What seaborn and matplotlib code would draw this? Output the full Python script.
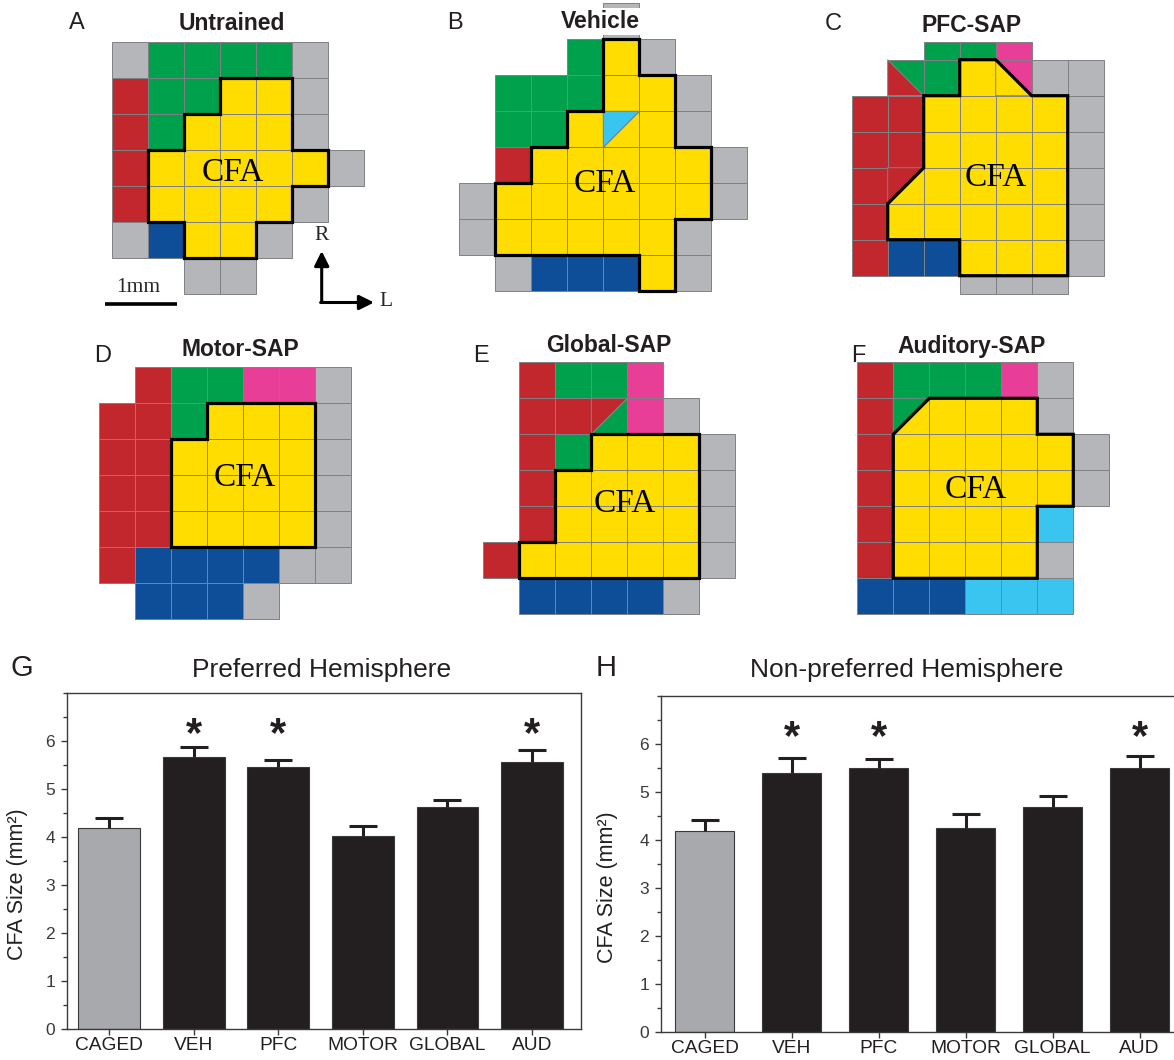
import numpy as np
import pandas as pd
import matplotlib
matplotlib.use("Agg")
import matplotlib.pyplot as plt
from matplotlib.patches import Polygon
from matplotlib.ticker import MultipleLocator
from collections import Counter, defaultdict
import seaborn as sns

# ---------------------------------------------------------------- data
# Motor maps: one token per 500 um site, rows listed rostral -> caudal.
# '.' no site, x non-responsive, g neck, r vibrissa, y forelimb (CFA),
# b hindlimb, p jaw, c trunk.  A three-character token "ABk" splits the
# site on a diagonal: colour A fills the triangle at corner k
# (1 top-left, 2 top-right, 3 bottom-left, 4 bottom-right), colour B the rest.
map_untrained = [
    "x g g g g x .",
    "r g g y y x .",
    "r g y y y x .",
    "r y y y y y x",
    "r y y y y x .",
    "x b y y x . .",
    ". . x x . . .",
]
map_vehicle = [
    ". . . . x . . .",
    ". . . g y x . .",
    ". g g g y y x .",
    ". g g y cy1 y x .",
    ". r y y y y y x",
    "x y y y y y y x",
    "x y y y y y x .",
    ". x b b b y x .",
]
map_pfc = [
    ". . g g p . .",
    ". rg3 g y py2 x x",
    "r r y y y y x",
    "r r y y y y x",
    "r ry1 y y y y x",
    "r y y y y y x",
    "r b b y y y x",
    ". . . x x x .",
]
map_motor = [
    ". r g g p p x",
    "r r g y y y x",
    "r r y y y y x",
    "r r y y y y x",
    "r r y y y y x",
    "r b b b b x x",
    ". b b b x . .",
]
map_global = [
    ". r g g p . .",
    ". r r rg1 p x .",
    ". r g y y y x",
    ". r y y y y x",
    ". r y y y y x",
    "r y y y y y x",
    ". b b b b x .",
]
map_auditory = [
    "r g g g p x .",
    "r gy1 y y y x .",
    "r y y y y y x",
    "r y y y y y x",
    "r y y y y c .",
    "r y y y y x .",
    "b b b c c c .",
]

groups = ["CAGED", "VEH", "PFC", "MOTOR", "GLOBAL", "AUD"]
pref_mean = [4.19, 5.66, 5.45, 4.03, 4.63, 5.56]
pref_sem = [0.21, 0.22, 0.15, 0.19, 0.15, 0.26]
nonpref_mean = [4.18, 5.39, 5.51, 4.26, 4.69, 5.51]
nonpref_sem = [0.24, 0.32, 0.18, 0.28, 0.23, 0.25]
significant = [False, True, True, False, False, True]

# ---------------------------------------------------------------- style
SITE_COLORS = {
    "x": "#b5b6ba", "g": "#00a14c", "r": "#c1272d", "y": "#ffdd00",
    "b": "#0e4d97", "p": "#e83e97", "c": "#39c5ef",
}
GRID_LINE = "#7f8184"
INK = "#231f20"
BAR_COLORS = ["#a7a9ac"] + [INK] * 5
CELL = 36.0  # pixels per site

sns.set_theme(style="white")
plt.rcParams["font.family"] = ["Liberation Sans", "DejaVu Sans"]
SERIF = ["Liberation Serif", "DejaVu Serif"]

# panel layout in figure pixels (y measured downward)
MAP_PANELS = [
    dict(grid=map_untrained, title="Untrained", letter="A", origin=(111.7, 41.7),
         title_xy=(231.7, 23.5), letter_xy=(77, 23), label_xy=(3.36, 3.63)),
    dict(grid=map_vehicle, title="Vehicle", letter="B", origin=(459.3, 3.3),
         title_xy=(600, 21.5), letter_xy=(455, 23), label_xy=(4.05, 5.02),
         cfa=("y", "c"), title_box=True),
    dict(grid=map_pfc, title="PFC-SAP", letter="C", origin=(851.7, 41.7),
         title_xy=(972, 26), letter_xy=(833, 24), label_xy=(3.99, 3.77),
         rows=[0.5, 1, 1, 1, 1, 1, 1, 0.5]),
    dict(grid=map_motor, title="Motor-SAP", letter="D", origin=(99.3, 367.3),
         title_xy=(240, 350), letter_xy=(103, 356), label_xy=(4.04, 3.06)),
    dict(grid=map_global, title="Global-SAP", letter="E", origin=(483.3, 362.3),
         title_xy=(609, 345), letter_xy=(481, 356), label_xy=(3.93, 3.94)),
    dict(grid=map_auditory, title="Auditory-SAP", letter="F", origin=(857.3, 362.3),
         title_xy=(972, 346.5), letter_xy=(858, 356), label_xy=(3.29, 3.55)),
]

W, H = 1174, 1060
fig = plt.figure(figsize=(W / 100, H / 100), dpi=100)
fig.patch.set_facecolor("white")

canvas = fig.add_axes([0, 0, 1, 1])
canvas.set_xlim(0, W)
canvas.set_ylim(H, 0)
canvas.axis("off")
canvas.set_zorder(0)


def cell_pieces(token, x0, y0, h):
    tl, tr, bl, br = (x0, y0), (x0 + 1, y0), (x0, y0 + h), (x0 + 1, y0 + h)
    if len(token) == 1:
        return [(token, [tl, tr, br, bl])]
    a, b, k = token[0], token[1], int(token[2])
    if k == 1:
        tri, rest = [tl, tr, bl], [tr, br, bl]
    elif k == 2:
        tri, rest = [tl, tr, br], [tl, br, bl]
    elif k == 3:
        tri, rest = [tl, br, bl], [tl, tr, br]
    else:
        tri, rest = [tr, br, bl], [tl, tr, bl]
    return [(a, tri), (b, rest)]


def chain_loops(edges):
    adj = defaultdict(list)
    for e in edges:
        adj[e[0]].append(e)
        adj[e[1]].append(e)
    unused = set(edges)
    loops = []
    while unused:
        e = unused.pop()
        start, cur = e[0], e[1]
        loop = [start, cur]
        while cur != start:
            nxt = next((f for f in adj[cur] if f in unused), None)
            if nxt is None:
                break
            unused.remove(nxt)
            cur = nxt[1] if nxt[0] == cur else nxt[0]
            loop.append(cur)
        loops.append(loop)
    return loops


def draw_map(ax, panel):
    ox, oy = panel["origin"]
    rows = panel.get("rows", [1] * len(panel["grid"]))
    cfa = panel.get("cfa", ("y",))
    to_px = lambda p: (ox + CELL * p[0], oy + CELL * p[1])
    edge_count = Counter()
    y0 = 0.0
    for line, h in zip(panel["grid"], rows):
        for c, token in enumerate(line.split()):
            if token == ".":
                continue
            for colour, verts in cell_pieces(token, c, y0, h):
                ax.add_patch(Polygon([to_px(v) for v in verts], closed=True,
                                     facecolor=SITE_COLORS[colour],
                                     edgecolor=GRID_LINE, linewidth=0.7, zorder=1))
                if colour in cfa:
                    pts = [(round(v[0], 4), round(v[1], 4)) for v in verts]
                    for p, q in zip(pts, pts[1:] + pts[:1]):
                        edge_count[tuple(sorted((p, q)))] += 1
        y0 += h
    boundary = [e for e, n in edge_count.items() if n == 1]
    for loop in chain_loops(boundary):
        ax.add_patch(Polygon([to_px(v) for v in loop], closed=True, fill=False,
                             edgecolor="black", linewidth=2.3, joinstyle="miter",
                             zorder=3))
    lx, ly = to_px(panel["label_xy"])
    ax.text(lx, ly, "CFA", family=SERIF, fontsize=24, ha="center", va="center",
            color="black", zorder=4)
    box = dict(facecolor="white", edgecolor="none", pad=1.5) if panel.get("title_box") else None
    ax.text(*panel["title_xy"], panel["title"], fontsize=16.5, fontweight="bold",
            ha="center", va="center", color=INK, bbox=box, zorder=5)
    ax.text(*panel["letter_xy"], panel["letter"], fontsize=17, ha="center",
            va="center", color=INK, zorder=5)


for panel in MAP_PANELS:
    draw_map(canvas, panel)

# scale bar and orientation arrows beside the untrained map
canvas.plot([104.5, 104.5 + 2 * CELL], [303.5, 303.5], color="black", lw=2.6,
            solid_capstyle="butt")
canvas.text(138, 288, "1mm", family=SERIF, fontsize=15.5, ha="center", va="center")
arrow = dict(arrowstyle="-|>", color="black", lw=2.2, mutation_scale=22,
             shrinkA=0, shrinkB=0)
canvas.annotate("", xy=(321.7, 251), xytext=(321.7, 302.5), arrowprops=arrow)
canvas.annotate("", xy=(374, 302.5), xytext=(320.6, 302.5), arrowprops=arrow)
canvas.text(321.7, 236, "R", family=SERIF, fontsize=15.5, ha="center", va="center")
canvas.text(386, 302, "L", family=SERIF, fontsize=15.5, ha="center", va="center")


# ---------------------------------------------------------------- bar charts
def px_axes(left, right, top, bottom):
    return fig.add_axes([left / W, (H - bottom) / H, (right - left) / W, (bottom - top) / H])


def draw_bars(ax, means, sems, width, xlim, title, title_x, letter, letter_x, ylabel_x):
    df = pd.DataFrame({"group": groups, "size": means})
    sns.barplot(data=df, x="group", y="size", hue="group", palette=BAR_COLORS,
                legend=False, width=width, saturation=1, edgecolor="#3a3a3a",
                linewidth=0.8, errorbar=None, ax=ax, zorder=2)
    xs = np.arange(len(groups))
    _, caplines, _ = ax.errorbar(xs, means, yerr=[np.zeros(len(xs)), sems], fmt="none",
                                 ecolor=INK, elinewidth=2.2, capsize=10, capthick=2.2,
                                 zorder=3)
    for cl in caplines:
        if np.allclose(cl.get_ydata(), means):
            cl.set_visible(False)
    for x, sig in zip(xs, significant):
        if sig:
            ax.text(x, 6.12, "*", fontsize=30, fontweight="bold", ha="center",
                    va="center", color=INK)
    ax.set_xlim(*xlim)
    ax.set_ylim(0, 7)
    ax.set_yticks(range(7))
    ax.yaxis.set_minor_locator(MultipleLocator(0.5))
    ax.tick_params(axis="y", which="major", left=True, direction="out", length=4.5,
                   width=1, labelsize=12.5, colors="#3a3a3a", pad=4)
    ax.tick_params(axis="y", which="minor", left=True, direction="out", length=3,
                   width=1, colors="#3a3a3a")
    ax.tick_params(axis="x", bottom=True, direction="out", length=4.5, width=1,
                   labelsize=13.8, colors="#3a3a3a", labelcolor=INK, pad=1.5)
    for s in ax.spines.values():
        s.set_visible(True)
        s.set_color("#3a3a3a")
        s.set_linewidth(1.0)
    ax.set_xlabel("")
    ax.set_ylabel("CFA Size (mm²)", fontsize=15.5, color=INK)
    ax.yaxis.set_label_coords(ylabel_x, 0.43)
    ax.set_facecolor("white")
    fig.text(title_x / W, 1 - 670 / H, title, fontsize=19, ha="center", va="center", color=INK)
    fig.text(letter_x / W, 1 - 668 / H, letter, fontsize=21, ha="center", va="center", color=INK)


ax_g = px_axes(67, 581, 693, 1029)
draw_bars(ax_g, pref_mean, pref_sem, 0.73, (-0.5, 5.58), "Preferred Hemisphere", 322,
          "G", 22, -0.076)

ax_h = px_axes(661, 661 + 6.08 * 87, 696, 1032)
draw_bars(ax_h, nonpref_mean, nonpref_sem, 0.67, (-0.5, 5.58), "Non-preferred Hemisphere",
          907, "H", 606, -0.081)

fig.savefig("out.png", dpi=100, facecolor="white")
